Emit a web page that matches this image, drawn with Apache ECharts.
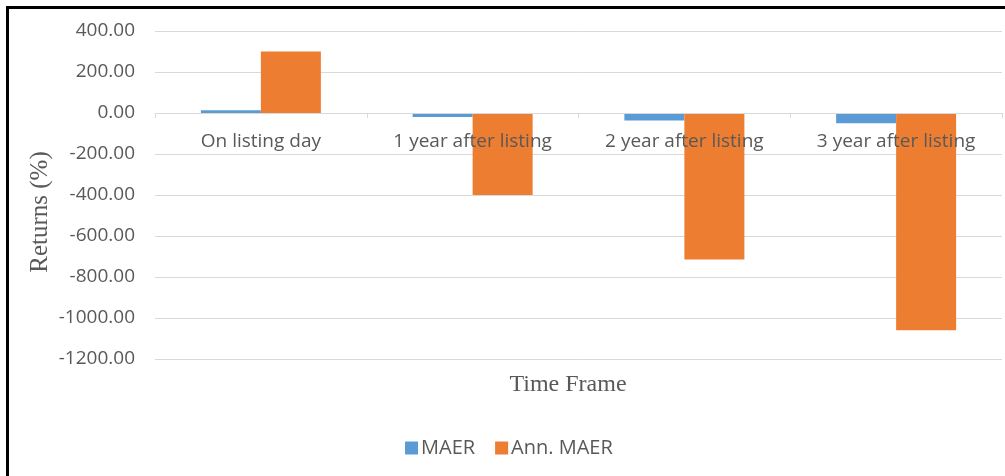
<!DOCTYPE html>
<html>
<head>
<meta charset="utf-8">
<script src="https://cdn.jsdelivr.net/npm/echarts@6/dist/echarts.min.js"></script>
<style>
  html, body { margin: 0; padding: 0; background: #fff; overflow: hidden; }
  #chart { position: absolute; left: 0; top: 0; width: 1005px; height: 476px; }
  #frame { position: absolute; left: 6px; top: 6px; width: 1010px; height: 490px;
           border: 3px solid #000; pointer-events: none; }
</style>
</head>
<body>
<div id="chart"></div>
<div id="frame"></div>
<script>
// Periods after listing
const categories = ['On listing day', '1 year after listing', '2 year after listing', '3 year after listing'];
// Mean abnormal excess returns (%)
const maer = [14, -20, -37, -50];
// Annualised MAER (%)
const annMaer = [300, -400, -715, -1060];
// Value axis range
const yMin = -1200, yMax = 400, yStep = 200;

const labelFont = '"Open Sans", sans-serif';
const serifFont = '"Liberation Serif", "Times New Roman", serif';
const grey = '#595959';

const gridTop = 31, gridBottom = 117, chartHeight = 476;
// Shift the category axis up so it sits on the zero line
const plotHeight = chartHeight - gridTop - gridBottom;
const zeroOffset = -plotHeight * (0 - yMin) / (yMax - yMin);

const chart = echarts.init(document.getElementById('chart'), null, { renderer: 'canvas' });
chart.setOption({
  animation: false,
  backgroundColor: '#ffffff',
  grid: { left: 155, right: 3, top: gridTop, bottom: gridBottom, containLabel: false },
  legend: {
    data: ['MAER', 'Ann. MAER'],
    left: 400, top: 433,
    itemWidth: 13, itemHeight: 13, itemGap: 20,
    icon: 'rect',
    textStyle: { color: grey, fontFamily: labelFont, fontSize: 20, padding: [0, 0, 0, -2] }
  },
  xAxis: {
    type: 'category',
    data: categories,
    position: 'bottom',
    offset: zeroOffset,
    z: 5,
    axisLine: { onZero: false, lineStyle: { color: '#d9d9d9', width: 1 } },
    axisTick: { show: true, alignWithLabel: false, length: 5, lineStyle: { color: '#d9d9d9' } },
    axisLabel: { color: grey, fontFamily: labelFont, fontSize: 19, margin: 19 },
    splitLine: { show: false }
  },
  yAxis: {
    type: 'value',
    min: yMin, max: yMax, interval: yStep,
    axisLine: { show: false },
    axisTick: { show: false },
    axisLabel: {
      color: grey, fontFamily: labelFont, fontSize: 19, margin: 20,
      formatter: v => v.toFixed(2)
    },
    splitLine: { lineStyle: { color: '#d9d9d9', width: 1 } }
  },
  graphic: [
    {
      type: 'text', x: 40, y: 212, rotation: Math.PI / 2,
      style: { text: 'Returns (%)', x: 0, y: 0, align: 'center', verticalAlign: 'middle',
               fill: grey, font: '25px ' + serifFont }
    },
    {
      type: 'text', x: 568, y: 385,
      style: { text: 'Time Frame', x: 0, y: 0, align: 'center', verticalAlign: 'middle',
               fill: grey, font: '24px ' + serifFont }
    }
  ],
  series: [
    {
      name: 'MAER', type: 'bar', data: maer,
      barWidth: 60, barGap: '0%',
      itemStyle: { color: '#5B9BD5' }
    },
    {
      name: 'Ann. MAER', type: 'bar', data: annMaer,
      barWidth: 60, barGap: '0%',
      itemStyle: { color: '#ED7D31' }
    }
  ]
});
</script>
</body>
</html>
